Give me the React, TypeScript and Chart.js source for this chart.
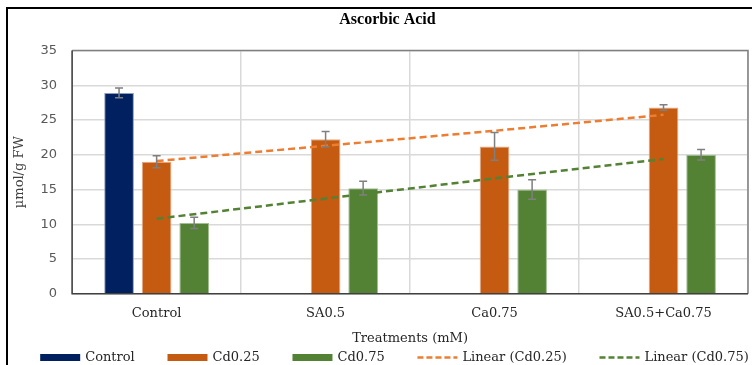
import React, { useEffect, useRef } from "react";
import { Chart, registerables } from "chart.js";

Chart.register(...registerables);

const categories = ["Control", "SA0.5", "Ca0.75", "SA0.5+Ca0.75"];
const controlValues = [28.9, null, null, null];
const cd025Values = [19.0, 22.25, 21.2, 26.8];
const cd075Values = [10.2, 15.2, 15.0, 20.0];
const controlErrors = [0.7, null, null, null];
const cd025Errors = [0.85, 1.1, 2.0, 0.4];
const cd075Errors = [0.8, 1.0, 1.4, 0.75];
const trendCd025 = [19.1, 21.3, 23.45, 25.75];
const trendCd075 = [10.8, 13.7, 16.6, 19.4];
const yMin = 0;
const yMax = 35;
const yStep = 5;
const chartTitle = "Ascorbic Acid";

const SERIF = "'DejaVu Serif', 'Liberation Serif', serif";
const SANS = "'DejaVu Sans', Verdana, sans-serif";

const outerBorderPlugin = {
  id: "outerBorder",
  beforeDraw(chart: any) {
    const ctx = chart.ctx;
    ctx.save();
    ctx.fillStyle = "#ffffff";
    ctx.fillRect(0, 0, chart.width, chart.height);
    ctx.strokeStyle = "#000000";
    ctx.lineWidth = 2;
    ctx.strokeRect(7, 8, chart.width + 20, chart.height + 20);
    ctx.restore();
  },
  afterDraw(chart: any) {
    const ctx = chart.ctx;
    ctx.save();
    ctx.fillStyle = "#000000";
    ctx.font = "bold 16px 'Liberation Serif', serif";
    ctx.textAlign = "center";
    ctx.textBaseline = "middle";
    ctx.fillText(chartTitle, 387.5, 20);
    ctx.restore();
  },
};

const frameAndErrorPlugin = {
  id: "frameAndErrors",
  afterDatasetsDraw(chart: any) {
    const ctx = chart.ctx;
    const a = chart.chartArea;
    const y = chart.scales.y;
    ctx.save();
    ctx.strokeStyle = "#7f7f7f";
    ctx.lineWidth = 1.5;
    ctx.beginPath();
    ctx.moveTo(a.left, a.top);
    ctx.lineTo(a.right, a.top);
    ctx.lineTo(a.right, a.bottom);
    ctx.stroke();
    ctx.strokeStyle = "#404040";
    ctx.beginPath();
    ctx.moveTo(a.left, a.top);
    ctx.lineTo(a.left, a.bottom);
    ctx.lineTo(a.right, a.bottom);
    ctx.stroke();
    chart.data.datasets.forEach((ds: any, i: number) => {
      const errs = ds.errors;
      if (!errs) return;
      const meta = chart.getDatasetMeta(i);
      meta.data.forEach((el: any, j: number) => {
        const v = ds.data[j];
        const e = errs[j];
        if (v == null || e == null) return;
        const x = el.x;
        const top = y.getPixelForValue(v + e);
        const bot = y.getPixelForValue(v - e);
        ctx.strokeStyle = "#7f7f7f";
        ctx.lineWidth = 1.5;
        ctx.beginPath();
        ctx.moveTo(x, top);
        ctx.lineTo(x, bot);
        ctx.moveTo(x - 4, top);
        ctx.lineTo(x + 4, top);
        ctx.moveTo(x - 4, bot);
        ctx.lineTo(x + 4, bot);
        ctx.stroke();
      });
    });
    ctx.restore();
  },
};

const customLegendPlugin = {
  id: "customLegend",
  afterDraw(chart: any) {
    const ctx = chart.ctx;
    const items = chart.data.datasets.map((ds: any) => ({
      label: ds.label,
      color: ds.type === "line" ? ds.borderColor : ds.backgroundColor,
      line: ds.type === "line",
    }));
    const boxW = 40;
    const boxGap = 5;
    const gap = 32.75;
    ctx.save();
    ctx.font = `13px ${SERIF}`;
    const widths = items.map((it: any) => boxW + boxGap + ctx.measureText(it.label).width);
    const total = widths.reduce((s: number, w: number) => s + w, 0) + gap * (items.length - 1);
    let x = 394.5 - total / 2;
    const cy = 357.5;
    items.forEach((it: any, k: number) => {
      if (it.line) {
        ctx.strokeStyle = it.color;
        ctx.lineWidth = 2.5;
        ctx.setLineDash([6, 3]);
        ctx.beginPath();
        ctx.moveTo(x, cy);
        ctx.lineTo(x + boxW, cy);
        ctx.stroke();
        ctx.setLineDash([]);
      } else {
        ctx.fillStyle = it.color;
        ctx.fillRect(x, cy - 3.5, boxW, 7);
      }
      ctx.fillStyle = "#262626";
      ctx.textBaseline = "middle";
      ctx.textAlign = "left";
      ctx.fillText(it.label, x + boxW + boxGap, cy);
      x += widths[k] + gap;
    });
    ctx.restore();
  },
};

export default function App() {
  const canvasRef = useRef<HTMLCanvasElement | null>(null);

  useEffect(() => {
    if (!canvasRef.current) return;
    const chart = new Chart(canvasRef.current, {
      type: "bar",
      data: {
        labels: categories,
        datasets: [
          {
            label: "Control",
            data: controlValues,
            errors: controlErrors,
            backgroundColor: "#002060",
            borderColor: "#8d9bbd",
            borderWidth: 1,
            order: 1,
          } as any,
          {
            label: "Cd0.25",
            data: cd025Values,
            errors: cd025Errors,
            backgroundColor: "#C55A11",
            borderColor: "#e6a883",
            borderWidth: 1,
            order: 1,
          } as any,
          {
            label: "Cd0.75",
            data: cd075Values,
            errors: cd075Errors,
            backgroundColor: "#548235",
            borderColor: "#a3bd93",
            borderWidth: 1,
            order: 1,
          } as any,
          {
            type: "line",
            label: "Linear (Cd0.25)",
            data: trendCd025,
            borderColor: "#ED7D31",
            backgroundColor: "#ED7D31",
            borderWidth: 2.5,
            borderDash: [7, 4],
            pointRadius: 0,
            fill: false,
            order: 0,
          } as any,
          {
            type: "line",
            label: "Linear (Cd0.75)",
            data: trendCd075,
            borderColor: "#548235",
            backgroundColor: "#548235",
            borderWidth: 2.5,
            borderDash: [7, 4],
            pointRadius: 0,
            fill: false,
            order: 0,
          } as any,
        ],
      },
      options: {
        responsive: false,
        animation: false,
        categoryPercentage: 0.667,
        barPercentage: 0.79,
        layout: { padding: { left: 8, right: 4, top: 50.5, bottom: 14 } },
        plugins: {
          legend: { display: false },
          tooltip: { enabled: false },
          title: { display: false },
        },
        scales: {
          x: {
            offset: true,
            grid: { offset: true, color: "#d9d9d9", lineWidth: 1.5, drawTicks: false },
            border: { display: false },
            ticks: { color: "#262626", font: { family: SERIF, size: 13 }, padding: 12 },
            title: {
              display: true,
              text: "Treatments (mM)",
              color: "#262626",
              font: { family: SERIF, size: 13 },
              padding: { top: -3, bottom: 5 },
            },
          },
          y: {
            min: yMin,
            max: yMax,
            grid: { color: "#d9d9d9", lineWidth: 1.5, drawTicks: false },
            border: { display: false },
            ticks: { stepSize: yStep, color: "#595959", font: { family: SANS, size: 13 }, padding: 15 },
            title: {
              display: true,
              text: "µmol/g FW",
              color: "#404040",
              font: { family: SERIF, size: 13 },
              padding: { top: 4, bottom: -2 },
            },
          },
        },
      } as any,
      plugins: [outerBorderPlugin, frameAndErrorPlugin, customLegendPlugin],
    });
    return () => chart.destroy();
  }, []);

  return (
    <div style={{ position: "fixed", left: 0, top: 0, width: 752, height: 365, background: "#fff" }}>
      <canvas ref={canvasRef} width={752} height={365} style={{ display: "block" }} />
    </div>
  );
}
